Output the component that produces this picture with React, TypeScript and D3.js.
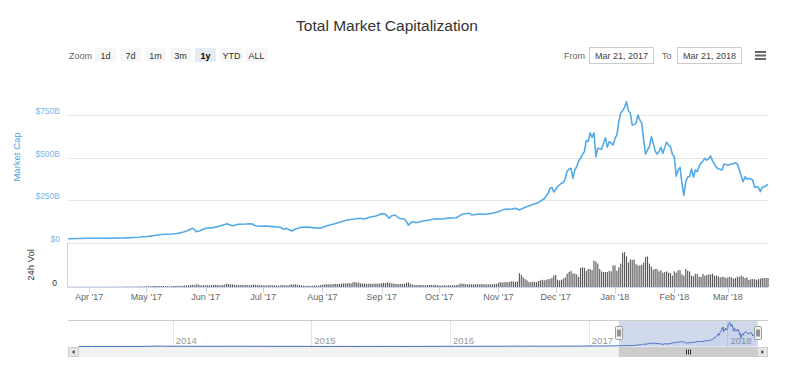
import React from 'react';
import * as d3 from 'd3';

// ---------- DATA ----------
const title = 'Total Market Capitalization';
const zoomButtons = ['1d', '7d', '1m', '3m', '1y', 'YTD', 'ALL'];
const selectedZoom = '1y';
const fromDate = 'Mar 21, 2017';
const toDate = 'Mar 21, 2018';
const capTicks = [0, 250, 500, 750];
const capTickLabels = ['$0', '$250B', '$500B', '$750B'];
const navYears = ['2014', '2015', '2016', '2017', '2018'];

// total market cap, billions USD
const marketCap: [string, number][] = [
  ['2017-03-21', 25], ['2017-03-26', 26], ['2017-04-03', 28], ['2017-04-10', 28], ['2017-04-20', 30],
  ['2017-04-27', 34], ['2017-05-01', 38], ['2017-05-04', 42], ['2017-05-09', 50], ['2017-05-14', 53],
  ['2017-05-17', 56], ['2017-05-20', 63], ['2017-05-22', 70], ['2017-05-24', 80], ['2017-05-25', 86],
  ['2017-05-26', 80], ['2017-05-27', 66], ['2017-05-29', 72], ['2017-06-01', 86], ['2017-06-05', 90],
  ['2017-06-08', 98], ['2017-06-11', 108], ['2017-06-12', 113], ['2017-06-15', 101], ['2017-06-18', 110],
  ['2017-06-22', 111], ['2017-06-25', 113], ['2017-06-27', 101], ['2017-06-30', 98], ['2017-07-03', 99],
  ['2017-07-06', 96], ['2017-07-10', 92], ['2017-07-12', 80], ['2017-07-13', 86], ['2017-07-16', 70],
  ['2017-07-18', 82], ['2017-07-21', 92], ['2017-07-24', 94], ['2017-07-27', 90], ['2017-07-31', 86],
  ['2017-08-03', 100], ['2017-08-07', 111], ['2017-08-10', 121], ['2017-08-14', 135], ['2017-08-17', 139],
  ['2017-08-21', 145], ['2017-08-23', 141], ['2017-08-26', 152], ['2017-08-29', 158], ['2017-09-01', 172],
  ['2017-09-03', 168], ['2017-09-05', 145], ['2017-09-06', 158], ['2017-09-08', 164], ['2017-09-10', 145],
  ['2017-09-13', 139], ['2017-09-14', 125], ['2017-09-15', 105], ['2017-09-17', 125], ['2017-09-19', 119],
  ['2017-09-22', 127], ['2017-09-26', 135], ['2017-09-29', 142], ['2017-10-03', 141], ['2017-10-06', 146],
  ['2017-10-10', 148], ['2017-10-13', 168], ['2017-10-17', 174], ['2017-10-18', 164], ['2017-10-22', 170],
  ['2017-10-25', 168], ['2017-10-29', 174], ['2017-11-01', 183], ['2017-11-04', 197], ['2017-11-08', 199],
  ['2017-11-10', 203], ['2017-11-12', 193], ['2017-11-15', 209], ['2017-11-19', 225], ['2017-11-22', 238],
  ['2017-11-25', 259], ['2017-11-27', 290], ['2017-11-28', 320], ['2017-11-29', 326], ['2017-11-30', 299],
  ['2017-12-01', 315], ['2017-12-02', 330], ['2017-12-03', 340], ['2017-12-04', 350], ['2017-12-05', 355],
  ['2017-12-06', 379], ['2017-12-07', 420], ['2017-12-08', 434], ['2017-12-09', 438], ['2017-12-10', 379],
  ['2017-12-11', 430], ['2017-12-12', 447], ['2017-12-13', 480], ['2017-12-14', 496], ['2017-12-15', 520],
  ['2017-12-16', 535], ['2017-12-17', 600], ['2017-12-18', 594], ['2017-12-19', 646], ['2017-12-20', 619],
  ['2017-12-21', 646], ['2017-12-22', 506], ['2017-12-23', 555], ['2017-12-24', 552], ['2017-12-25', 549],
  ['2017-12-26', 584], ['2017-12-27', 617], ['2017-12-28', 561], ['2017-12-29', 594], ['2017-12-30', 585],
  ['2017-12-31', 574], ['2018-01-01', 613], ['2018-01-02', 633], ['2018-01-03', 711], ['2018-01-04', 763],
  ['2018-01-05', 775], ['2018-01-06', 795], ['2018-01-07', 828], ['2018-01-08', 775], ['2018-01-09', 763],
  ['2018-01-10', 691], ['2018-01-11', 695], ['2018-01-12', 701], ['2018-01-13', 750], ['2018-01-14', 721],
  ['2018-01-15', 701], ['2018-01-16', 603], ['2018-01-17', 520], ['2018-01-18', 545], ['2018-01-19', 564],
  ['2018-01-20', 623], ['2018-01-21', 584], ['2018-01-22', 540], ['2018-01-23', 521], ['2018-01-24', 535],
  ['2018-01-25', 561], ['2018-01-26', 525], ['2018-01-27', 560], ['2018-01-28', 590], ['2018-01-29', 575],
  ['2018-01-30', 564], ['2018-01-31', 520], ['2018-02-01', 506], ['2018-02-02', 392], ['2018-02-03', 428],
  ['2018-02-04', 443], ['2018-02-05', 350], ['2018-02-06', 279], ['2018-02-07', 359], ['2018-02-08', 388],
  ['2018-02-09', 388], ['2018-02-10', 434], ['2018-02-11', 385], ['2018-02-12', 428], ['2018-02-13', 418],
  ['2018-02-14', 450], ['2018-02-15', 470], ['2018-02-16', 480], ['2018-02-17', 496], ['2018-02-18', 486],
  ['2018-02-19', 495], ['2018-02-20', 510], ['2018-02-21', 480], ['2018-02-22', 463], ['2018-02-23', 443],
  ['2018-02-24', 435], ['2018-02-25', 432], ['2018-02-26', 428], ['2018-02-27', 463], ['2018-02-28', 460],
  ['2018-03-01', 457], ['2018-03-02', 460], ['2018-03-03', 463], ['2018-03-04', 466], ['2018-03-05', 470],
  ['2018-03-06', 463], ['2018-03-07', 428], ['2018-03-08', 392], ['2018-03-09', 359], ['2018-03-10', 388],
  ['2018-03-11', 373], ['2018-03-12', 379], ['2018-03-13', 375], ['2018-03-14', 369], ['2018-03-15', 326],
  ['2018-03-16', 330], ['2018-03-17', 326], ['2018-03-18', 301], ['2018-03-19', 326], ['2018-03-20', 330],
  ['2018-03-21', 335], ['2018-03-22', 346],
];

// earlier history shown only in the navigator, billions USD
const capHistory: [string, number][] = [
  ['2013-04-28', 1.6], ['2013-06-01', 1.3], ['2013-08-01', 1.4], ['2013-10-01', 2.0], ['2013-11-30', 14],
  ['2013-12-15', 9], ['2014-01-15', 10], ['2014-02-15', 8], ['2014-03-15', 7], ['2014-04-15', 6],
  ['2014-05-15', 7.5], ['2014-06-15', 8.5], ['2014-07-15', 8.5], ['2014-08-15', 7], ['2014-09-15', 5.5],
  ['2014-10-15', 5.5], ['2014-11-15', 5.5], ['2014-12-15', 5], ['2015-01-15', 3.7], ['2015-02-15', 3.5],
  ['2015-03-15', 4], ['2015-04-15', 3.5], ['2015-05-15', 3.5], ['2015-06-15', 3.6], ['2015-07-15', 4.5],
  ['2015-08-15', 4], ['2015-09-15', 3.6], ['2015-10-15', 4.2], ['2015-11-15', 5.5], ['2015-12-15', 6.5],
  ['2016-01-15', 7], ['2016-02-15', 6.5], ['2016-03-15', 7.5], ['2016-04-15', 7.5], ['2016-05-15', 8.3],
  ['2016-06-15', 11.5], ['2016-07-15', 10.5], ['2016-08-15', 10], ['2016-09-15', 10.5], ['2016-10-15', 11],
  ['2016-11-15', 12], ['2016-12-15', 13.5], ['2017-01-15', 17], ['2017-02-15', 17], ['2017-03-01', 21],
];

// daily 24h volume, billions USD, starting 2017-03-21
const volumeStart = '2017-03-21';
const volMar17 = [0.4, 0.3, 0.4, 0.5, 0.4, 0.3, 0.4, 0.5, 0.4, 0.4, 0.5];
const volApr17 = [0.5, 0.4, 0.5, 0.6, 0.5, 0.5, 0.4, 0.5, 0.6, 0.5, 0.5, 0.6, 0.5, 0.6, 0.5, 0.5, 0.6, 0.7, 0.6, 0.7, 0.8, 0.7, 0.7, 0.8, 0.9, 0.8, 0.9, 1.0, 0.9, 0.9];
const volMay17 = [1.1, 1.2, 1.3, 1.6, 2.0, 1.8, 1.5, 1.7, 1.9, 1.6, 1.5, 1.4, 1.2, 1.3, 1.6, 1.8, 2.0, 1.9, 1.7, 2.2, 2.4, 2.6, 2.9, 3.2, 3.8, 3.0, 4.5, 4.2, 3.1, 2.8, 3.0];
const volJun17 = [3.0, 2.9, 2.8, 3.1, 3.4, 3.6, 3.3, 3.2, 3.0, 3.5, 4.2, 5.5, 4.8, 4.5, 4.4, 3.8, 3.5, 3.3, 3.6, 3.4, 3.2, 3.6, 3.3, 3.0, 3.4, 3.9, 3.7, 3.2, 3.0, 3.1];
const volJul17 = [2.8, 2.6, 2.7, 3.0, 3.1, 2.8, 2.6, 2.5, 2.3, 2.8, 3.2, 3.0, 2.9, 2.7, 3.6, 4.5, 4.2, 4.4, 3.5, 3.2, 2.8, 2.2, 2.0, 1.9, 2.1, 2.0, 2.2, 2.5, 2.3, 2.4, 2.9];
const volAug17 = [3.8, 4.2, 4.5, 4.3, 4.8, 4.4, 5.0, 5.3, 4.9, 5.2, 5.6, 6.0, 5.8, 6.2, 6.5, 6.0, 7.8, 8.2, 7.5, 7.0, 6.2, 5.5, 5.8, 5.3, 5.5, 5.6, 5.2, 5.4, 5.7, 5.6, 5.8];
const volSep17 = [6.3, 6.8, 6.5, 7.6, 6.9, 6.2, 5.8, 5.2, 5.0, 4.8, 5.1, 5.0, 5.3, 7.0, 7.2, 5.6, 4.1, 3.6, 3.4, 3.3, 3.5, 3.2, 3.0, 3.1, 3.3, 3.4, 3.5, 3.2, 3.3, 3.1];
const volOct17 = [2.6, 2.5, 2.7, 2.8, 2.6, 2.9, 2.7, 2.8, 3.0, 3.2, 3.5, 5.5, 5.8, 5.4, 4.6, 4.5, 4.4, 4.2, 4.3, 4.5, 4.6, 4.4, 4.8, 4.7, 4.5, 4.3, 4.4, 4.6, 4.5, 4.8, 5.0];
const volNov17 = [7.0, 8.0, 7.5, 7.8, 8.5, 8.0, 8.8, 9.5, 9.0, 8.5, 9.2, 23, 20, 16, 13, 11, 8.5, 8, 9, 8.5, 8, 10, 11, 12, 11, 12, 13, 13.5, 15, 19];
const volDec17 = [20, 12, 11, 12, 14, 16, 22, 25, 27, 23, 22, 21, 17, 32, 33, 32, 27, 30, 30, 28, 44, 42, 39, 30, 26, 25, 25, 25, 27, 26, 36];
const volJan18 = [36, 27, 33, 39, 57, 58, 51, 41, 46, 45, 46, 38, 36, 36, 37, 41, 50, 51, 39, 34, 29, 30, 30, 26, 28, 24, 25, 26, 24, 23, 19];
const volFeb18 = [26, 24, 28, 28, 21, 19, 30, 27, 26, 19, 18, 22, 22, 17, 17, 22, 19, 20, 21, 21, 22, 19, 19, 18, 16, 17, 17, 15];
const volMar18 = [16, 17, 16, 14, 15, 17, 17, 19, 17, 15, 16, 12, 13, 13, 13, 12, 13, 14, 15, 15, 15, 15];

const volume = [
  ...volMar17, ...volApr17, ...volMay17, ...volJun17, ...volJul17, ...volAug17, ...volSep17,
  ...volOct17, ...volNov17, ...volDec17, ...volJan18, ...volFeb18, ...volMar18,
];

// ---------- CHART ----------
const FONT = '"Lucida Grande", "Lucida Sans Unicode", Arial, Helvetica, sans-serif';
const LINE = '#52aae8';

export default function App() {
  const parse = d3.utcParse('%Y-%m-%d');
  const left = 68, right = 768;

  const x = d3.scaleUtc().domain([parse('2017-03-21')!, parse('2018-03-22')!]).range([left, right]);
  const y = d3.scaleLinear().domain([0, 750]).range([243, 115]);
  const yv = d3.scaleLinear().domain([0, 70]).range([287, 245]);

  const capPts = marketCap.map(([d, v]) => [parse(d)!, v] as [Date, number]);
  const line = d3.line<[Date, number]>().x(d => x(d[0])).y(d => y(d[1]));

  const vStart = parse(volumeStart)!;
  const bars = volume.map((v, i) => ({ date: d3.utcDay.offset(vStart, i), v }));
  const barW = 1.1;

  const monthTicks = x.ticks(d3.utcMonth.every(1)!).filter(d => d > x.domain()[0]);
  const fmt = d3.utcFormat("%b '%y");

  // navigator
  const navX = d3.scaleUtc().domain([parse('2013-03-31')!, parse('2018-04-18')!]).range([left, right]);
  const navY = d3.scaleLinear().domain([0, 900]).range([346.5, 320]);
  const navPts = [...capHistory.map(([d, v]) => [parse(d)!, v] as [Date, number]), ...capPts];
  const navLine = d3.line<[Date, number]>().x(d => navX(d[0])).y(d => navY(d[1]));
  const navArea = d3.area<[Date, number]>().x(d => navX(d[0])).y0(navY(0)).y1(d => navY(d[1]));
  const navYearTicks = navYears.map(yr => parse(`${yr}-01-01`)!);
  const selL = navX(capPts[0][0]);
  const selR = navX(capPts[capPts.length - 1][0]);

  // zoom buttons layout
  const btnX0 = 95, btnW = 21, btnGap = 4;

  return (
    <svg width={800} height={365} style={{ position: 'absolute', left: 0, top: 0, fontFamily: FONT }}>
      <rect width={800} height={365} fill="#fff" />
      <text x={387} y={30.5} textAnchor="middle" fontSize={15.5} fill="#333">{title}</text>

      {/* range selector */}
      <text x={69} y={58.5} fontSize={9} fill="#666">Zoom</text>
      {zoomButtons.map((b, i) => {
        const bx = btnX0 + i * (btnW + btnGap);
        const w = btnW + (b.length > 2 ? 2 : 0);
        const sel = b === selectedZoom;
        return (
          <g key={b}>
            <rect x={bx} y={48} width={w} height={14} fill={sel ? '#e6ebf5' : '#f7f7f7'} />
            <text x={bx + w / 2} y={58.5} textAnchor="middle" fontSize={9}
              fill={sel ? '#000' : '#333'} fontWeight={sel ? 'bold' : 'normal'}>{b}</text>
          </g>
        );
      })}
      <text x={564} y={58.5} fontSize={9} fill="#666">From</text>
      <rect x={589.5} y={47.5} width={64} height={16} fill="#fff" stroke="#ccc" />
      <text x={621.5} y={58.5} textAnchor="middle" fontSize={9} fill="#444">{fromDate}</text>
      <text x={662} y={58.5} fontSize={9} fill="#666">To</text>
      <rect x={677.5} y={47.5} width={64} height={16} fill="#fff" stroke="#ccc" />
      <text x={709.5} y={58.5} textAnchor="middle" fontSize={9} fill="#444">{toDate}</text>
      {[0, 1, 2].map(i => (
        <rect key={i} x={755} y={51 + i * 3.5} width={11} height={2} fill="#666" />
      ))}

      {/* market cap grid + labels */}
      {capTicks.map((t, i) => (
        <g key={t}>
          <line x1={left} x2={right} y1={Math.round(y(t)) + 0.5} y2={Math.round(y(t)) + 0.5} stroke="#e6e6e6" />
          <text x={60} y={y(t) - 1} textAnchor="end" fontSize={8.5} fill="#7cb5ec">{capTickLabels[i]}</text>
        </g>
      ))}
      <text transform={`translate(20,157) rotate(-90)`} textAnchor="middle" fontSize={9.5} fill="#4ca3e3">Market Cap</text>

      {/* volume pane */}
      <line x1={left - 0.5} x2={left - 0.5} y1={243} y2={287} stroke="#ccd6eb" />
      {bars.map((b, i) => (
        <rect key={i} x={x(b.date) - barW / 2} y={yv(b.v)} width={barW} height={Math.max(0, yv(0) - yv(b.v))} fill="#555" />
      ))}
      <line x1={left} x2={right} y1={287.5} y2={287.5} stroke="#ccd6eb" />
      <text x={57} y={286} textAnchor="end" fontSize={8.5} fill="#333">0</text>
      <text transform={`translate(34,265) rotate(-90)`} textAnchor="middle" fontSize={9.5} fill="#333">24h Vol</text>

      {/* x axis */}
      {monthTicks.map(t => (
        <g key={+t}>
          <line x1={Math.round(x(t)) + 0.5} x2={Math.round(x(t)) + 0.5} y1={287} y2={293} stroke="#ccd6eb" />
          <text x={x(t)} y={300} textAnchor="middle" fontSize={9} fill="#666">{fmt(t)}</text>
        </g>
      ))}

      {/* market cap line */}
      <path d={line(capPts) || ''} fill="none" stroke={LINE} strokeWidth={1.6} strokeLinejoin="round" />

      {/* navigator */}
      {navYearTicks.map((t, i) => (
        <g key={i}>
          <line x1={Math.round(navX(t)) + 0.5} x2={Math.round(navX(t)) + 0.5} y1={320} y2={346.5} stroke="#e6e6e6" />
          <text x={navX(t) + 3} y={344} fontSize={9.5} fill="#999">{navYears[i]}</text>
        </g>
      ))}
      <path d={navArea(navPts) || ''} fill="#335cad" fillOpacity={0.05} />
      <path d={navLine(navPts) || ''} fill="none" stroke="#3f68c0" strokeWidth={1} />
      <rect x={selL} y={320} width={selR - selL} height={26.5} fill="rgba(102,133,194,0.3)" />
      <line x1={left} x2={right} y1={320.5} y2={320.5} stroke="#cccccc" />
      {[selL, selR].map((hx, i) => (
        <g key={i}>
          <rect x={Math.round(hx) - 3.5} y={326.5} width={7} height={13} fill="#f2f2f2" stroke="#999" rx={1} />
          <line x1={Math.round(hx) - 1} x2={Math.round(hx) - 1} y1={329.5} y2={336.5} stroke="#333" />
          <line x1={Math.round(hx) + 1} x2={Math.round(hx) + 1} y1={329.5} y2={336.5} stroke="#333" />
        </g>
      ))}

      {/* scrollbar */}
      <rect x={left} y={347} width={right - left} height={10} fill="#f2f2f2" />
      <rect x={selL} y={347} width={selR - selL} height={10} fill="#cccccc" />
      {[-2, 0, 2].map(o => (
        <line key={o} x1={Math.round((selL + selR) / 2) + o + 0.5} x2={Math.round((selL + selR) / 2) + o + 0.5} y1={349.5} y2={354.5} stroke="#333" />
      ))}
      <rect x={left + 0.5} y={347.5} width={10} height={9} fill="#e6e6e6" stroke="#ccc" />
      <path d={`M${left + 6.5},350 L${left + 6.5},354 L${left + 4},352 Z`} fill="#333" />
      <rect x={right - 10.5} y={347.5} width={10} height={9} fill="#e6e6e6" stroke="#ccc" />
      <path d={`M${right - 6.5},350 L${right - 6.5},354 L${right - 4},352 Z`} fill="#333" />
    </svg>
  );
}
